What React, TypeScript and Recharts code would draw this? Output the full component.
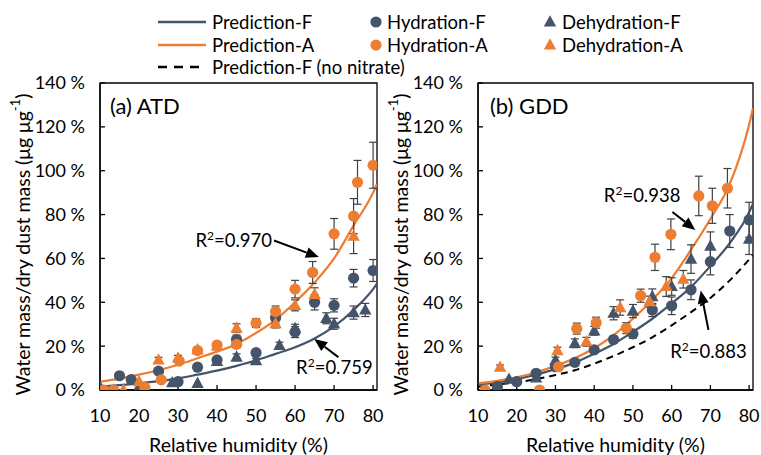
import React from 'react';
import {
  ComposedChart,
  XAxis,
  YAxis,
  Scatter,
  Line,
  ErrorBar,
  ReferenceArea,
  ReferenceLine,
} from 'recharts';

const FONT = 'Lato, "Open Sans", sans-serif';
const BLUE = '#44546A';
const ORANGE = '#ED7D31';
const ERR = '#404040';

// ---------- axes ----------
const rhTicks = [10, 20, 30, 40, 50, 60, 70, 80];
const yTicks = [0, 20, 40, 60, 80, 100, 120, 140];
const rhDomain: [number, number] = [10, 81];
const yDomain: [number, number] = [0, 140];

// ---------- prediction curves (RH grid + values in %) ----------
const curveRH = [10, 15, 20, 25, 30, 35, 40, 45, 50, 55, 60, 65, 70, 75, 80, 81];
const atdPredF = [1.5, 2.2, 3.0, 4.0, 5.3, 7.0, 8.8, 11, 13.5, 16.5, 19.5, 23.5, 29, 36.5, 46, 48.5];
const atdPredA = [3.8, 5.2, 7, 9, 11.5, 14.5, 17.5, 21, 26, 32, 40, 49, 60, 75, 90, 94];
const gddPredF = [2.5, 3.5, 5, 7, 9.5, 12.5, 16.5, 21, 26.5, 32.5, 39.5, 47, 56.5, 67, 81, 85];
const gddPredA = [3, 4.2, 5.8, 8, 11, 14.5, 19, 25, 32.5, 41, 51, 64, 78, 94, 121, 128.5];
const gddPredNoNitrate = [1.5, 2.5, 3.5, 5, 6.8, 9, 12, 15.5, 19.5, 24, 29.5, 35.5, 42, 50, 59.5, 61.5];

// ---------- measurements (x: RH %, y: water/dust %, e: error) ----------
type Pt = { x: number; y: number; e?: number };

const atdHydF: Pt[] = [
  { x: 15, y: 6.5 }, { x: 18, y: 4.7 }, { x: 25, y: 8.6, e: 0.8 }, { x: 30, y: 3.8 },
  { x: 35, y: 10.4, e: 0.8 }, { x: 40, y: 13.7, e: 1 }, { x: 45, y: 23, e: 2 },
  { x: 50, y: 17, e: 1.5 }, { x: 55, y: 33, e: 2.5 }, { x: 60, y: 26.4, e: 2.5 },
  { x: 65, y: 40, e: 3.5 }, { x: 70, y: 38.6, e: 3 }, { x: 75, y: 51, e: 4 }, { x: 80, y: 54.5, e: 5 },
];
const atdDehF: Pt[] = [
  { x: 10, y: 1.5 }, { x: 20, y: 1.5 }, { x: 28.5, y: 3.3 }, { x: 35, y: 3 },
  { x: 40, y: 13 }, { x: 45, y: 15, e: 1.5 }, { x: 50, y: 13.4, e: 1 },
  { x: 56, y: 20.3, e: 1.5 }, { x: 60, y: 28, e: 2 }, { x: 68, y: 32.7, e: 2.5 },
  { x: 70, y: 30.2, e: 2.5 }, { x: 75, y: 35.3, e: 3 }, { x: 78, y: 36.5, e: 3 },
];
const atdHydA: Pt[] = [
  { x: 11, y: 0 }, { x: 13.5, y: 0 }, { x: 21.5, y: 1.2 }, { x: 25.7, y: 4.6 },
  { x: 30.3, y: 13.2, e: 1 }, { x: 35, y: 18, e: 1 }, { x: 40, y: 20.5, e: 1 },
  { x: 45, y: 20.8, e: 1.5 }, { x: 50, y: 30.5, e: 2 }, { x: 55, y: 35.8, e: 2.5 },
  { x: 60, y: 46, e: 4 }, { x: 64.5, y: 53.6, e: 5 }, { x: 70, y: 71.2, e: 7 },
  { x: 75, y: 79.3, e: 8 }, { x: 76, y: 94.7, e: 10 }, { x: 80, y: 102.5, e: 10.5 },
];
const atdDehA: Pt[] = [
  { x: 16, y: 0 }, { x: 20, y: 3.8 }, { x: 25, y: 13.7, e: 1.2 }, { x: 30, y: 14.6, e: 1.2 },
  { x: 35, y: 18.3, e: 1 }, { x: 40, y: 20 }, { x: 45, y: 28.2, e: 2 },
  { x: 55, y: 30.3, e: 2 }, { x: 60, y: 38.6, e: 2.5 }, { x: 65, y: 43.6, e: 3 }, { x: 75, y: 70.2, e: 8 },
];

const gddHydF: Pt[] = [
  { x: 15, y: 1.5 }, { x: 20, y: 3.8 }, { x: 25, y: 7.6, e: 1 }, { x: 30, y: 10.6, e: 1 },
  { x: 35, y: 12.6, e: 1 }, { x: 40, y: 18.3, e: 1.5 }, { x: 45, y: 23, e: 1.5 },
  { x: 50, y: 25.6, e: 2 }, { x: 55, y: 36.5, e: 3 }, { x: 60, y: 38.4, e: 4 },
  { x: 65, y: 45.7, e: 4.5 }, { x: 70, y: 58.5, e: 6 }, { x: 75, y: 72.5, e: 7.5 }, { x: 80, y: 77.6, e: 8 },
];
const gddDehF: Pt[] = [
  { x: 18, y: 4.9 }, { x: 25, y: 5.5 }, { x: 30, y: 13.5, e: 1.5 }, { x: 35, y: 21.3, e: 2 },
  { x: 40, y: 27, e: 2 }, { x: 45, y: 35, e: 3 }, { x: 50, y: 36, e: 3 },
  { x: 55, y: 42.6, e: 3.5 }, { x: 60, y: 47.2, e: 4 }, { x: 65, y: 59.7, e: 6.5 },
  { x: 70, y: 65.6, e: 6.5 }, { x: 80, y: 68.8, e: 7 },
];
const gddHydA: Pt[] = [
  { x: 11.8, y: 0 }, { x: 25.9, y: 0 }, { x: 30.8, y: 10.6 }, { x: 35.5, y: 28, e: 2.5 },
  { x: 40.5, y: 30.7, e: 2.5 }, { x: 48.3, y: 28.2, e: 2.5 }, { x: 52, y: 43, e: 3 },
  { x: 55.7, y: 60.5, e: 6 }, { x: 59.8, y: 71, e: 7 }, { x: 67, y: 88.5, e: 9 },
  { x: 70.5, y: 84, e: 8 }, { x: 74.4, y: 92, e: 9 },
];
const gddDehA: Pt[] = [
  { x: 15.7, y: 10.4, e: 1 }, { x: 30.5, y: 18, e: 1.5 }, { x: 38, y: 22, e: 2 },
  { x: 46.7, y: 37.6, e: 3.5 }, { x: 54.3, y: 40.3, e: 2.5 }, { x: 58.6, y: 47.2, e: 4.5 },
  { x: 63, y: 50.5, e: 4 },
];

// ---------- annotations (data coordinates) ----------
type Note = { label: string; from: [number, number]; to: [number, number] };
const atdNotes: Note[] = [
  { label: '0.970', from: [54.6, 68.2], to: [66.1, 60.6] },
  { label: '0.759', from: [71.1, 15.0], to: [64.9, 23.3] },
];
const gddNotes: Note[] = [
  { label: '0.938', from: [60.2, 81.2], to: [66.1, 73.0] },
  { label: '0.883', from: [69.5, 27.4], to: [67.5, 45.4] },
];
// text placement relative to arrow tail (style only)
const atdNoteText = [
  { dx: -2, dy: 1, anchor: 'end' },
  { dx: -4, dy: 11, anchor: 'middle' },
];
const gddNoteText = [
  { dx: 8, dy: -16, anchor: 'end' },
  { dx: 0, dy: 22, anchor: 'middle' },
];

const toCurve = (vals: number[]) => curveRH.map((x, i) => ({ x, y: vals[i] }));

const circleShape = (color: string) => (p: any) =>
  <circle cx={p.cx} cy={p.cy} r={5.6} fill={color} />;
const triPoints = (cx: number, cy: number) =>
  `${cx},${cy - 6.8} ${cx + 6.2},${cy + 4.6} ${cx - 6.2},${cy + 4.6}`;
const triShape = (color: string) => (p: any) =>
  <polygon points={triPoints(p.cx, p.cy)} fill={color} />;

const arrowShape = (label: string, t: { dx: number; dy: number; anchor: string }) => (p: any) => {
  const { x1, y1, x2, y2 } = p;
  const ang = Math.atan2(y2 - y1, x2 - x1);
  const L = 13;
  const W = 5.5;
  const bx = x2 - L * Math.cos(ang);
  const by = y2 - L * Math.sin(ang);
  const px = -Math.sin(ang) * W;
  const py = Math.cos(ang) * W;
  return (
    <g>
      <line x1={x1} y1={y1} x2={bx} y2={by} stroke="#000" strokeWidth={2} />
      <polygon points={`${x2},${y2} ${bx + px},${by + py} ${bx - px},${by - py}`} fill="#000" />
      <text
        x={x1 + t.dx}
        y={y1 + t.dy + 6}
        textAnchor={t.anchor as any}
        fontSize={18.5}
        fontFamily={FONT}
        fill="#000"
      >
        R<tspan dy={-7} fontSize={12}>2</tspan>
        <tspan dy={7}>={label}</tspan>
      </text>
    </g>
  );
};

const YTitle = (props: any) => {
  const vb = props.viewBox || { x: 0, y: 0, width: 0, height: 0 };
  const cx = vb.x + vb.width - 78;
  const cy = vb.y + vb.height / 2 + 8;
  return (
    <text
      x={cx}
      y={cy}
      transform={`rotate(-90 ${cx} ${cy})`}
      textAnchor="middle"
      dominantBaseline="central"
      fontSize={19.5}
      fontFamily={FONT}
      fill="#000"
    >
      Water mass/dry dust mass (μg μg<tspan dy={-7} fontSize={13}>-1</tspan>
      <tspan dy={7}>)</tspan>
    </text>
  );
};

type PanelProps = {
  left: number;
  width: number;
  yAxisWidth: number;
  marginRight: number;
  predF: number[];
  predA: number[];
  predNo?: number[];
  hydF: Pt[];
  dehF: Pt[];
  hydA: Pt[];
  dehA: Pt[];
  notes: Note[];
  noteText: { dx: number; dy: number; anchor: string }[];
};

function Panel(props: PanelProps) {
  const tickStyle = { fill: '#000', fontSize: 18, fontFamily: FONT };
  const series = [
    { d: props.hydF, shape: circleShape(BLUE), name: 'hydF' },
    { d: props.dehF, shape: triShape(BLUE), name: 'dehF' },
    { d: props.hydA, shape: circleShape(ORANGE), name: 'hydA' },
    { d: props.dehA, shape: triShape(ORANGE), name: 'dehA' },
  ];
  return (
    <div style={{ position: 'absolute', left: props.left, top: 0 }}>
      <ComposedChart
        width={props.width}
        height={455}
        margin={{ top: 83, right: props.marginRight, bottom: 0, left: 0 }}
      >
        <XAxis
          type="number"
          dataKey="x"
          domain={rhDomain}
          ticks={rhTicks}
          interval={0}
          allowDataOverflow
          height={65}
          tickSize={-5}
          tickMargin={24}
          stroke="#000"
          strokeWidth={1.3}
          tick={tickStyle}
          label={{
            value: 'Relative humidity (%)',
            position: 'insideBottom',
            offset: 3,
            fill: '#000',
            fontSize: 19.5,
            fontFamily: FONT,
          }}
        />
        <YAxis
          type="number"
          dataKey="y"
          domain={yDomain}
          ticks={yTicks}
          interval={0}
          allowDataOverflow
          width={props.yAxisWidth}
          tickSize={-5}
          tickMargin={20}
          stroke="#000"
          strokeWidth={1.3}
          tick={tickStyle}
          tickFormatter={(v: number) => `${v} %`}
          label={YTitle}
        />
        <ReferenceArea
          x1={10}
          x2={81}
          y1={0}
          y2={140}
          fill="none"
          fillOpacity={0}
          stroke="#000"
          strokeWidth={1.3}
          ifOverflow="visible"
        />
        {props.predNo && (
          <Line
            data={toCurve(props.predNo)}
            dataKey="y"
            type="monotone"
            stroke="#000"
            strokeWidth={2}
            strokeDasharray="7 5"
            dot={false}
            isAnimationActive={false}
          />
        )}
        <Line
          data={toCurve(props.predF)}
          dataKey="y"
          type="monotone"
          stroke={BLUE}
          strokeWidth={2.25}
          dot={false}
          isAnimationActive={false}
        />
        <Line
          data={toCurve(props.predA)}
          dataKey="y"
          type="monotone"
          stroke={ORANGE}
          strokeWidth={2.25}
          dot={false}
          isAnimationActive={false}
        />
        {series.map((s) => (
          <Scatter key={s.name} data={s.d} dataKey="y" shape={s.shape} isAnimationActive={false}>
            <ErrorBar dataKey="e" direction="y" width={4} stroke={ERR} strokeWidth={1.2} />
          </Scatter>
        ))}
        {props.notes.map((n, i) => (
          <ReferenceLine
            key={n.label}
            segment={[
              { x: n.from[0], y: n.from[1] },
              { x: n.to[0], y: n.to[1] },
            ]}
            ifOverflow="visible"
            shape={arrowShape(n.label, props.noteText[i])}
          />
        ))}
      </ComposedChart>
    </div>
  );
}

function LegendOverlay() {
  const fs = 18.5;
  const txt = (x: number, y: number, s: string) => (
    <text x={x} y={y} dominantBaseline="central" fontSize={fs} fontFamily={FONT} fill="#000">
      {s}
    </text>
  );
  return (
    <svg
      width={761}
      height={455}
      style={{ position: 'absolute', left: 0, top: 0, pointerEvents: 'none' }}
    >
      <line x1={158} y1={22} x2={206} y2={22} stroke={BLUE} strokeWidth={2.5} />
      {txt(212, 22, 'Prediction-F')}
      <circle cx={376} cy={22} r={5.6} fill={BLUE} />
      {txt(387, 22, 'Hydration-F')}
      <polygon points={triPoints(550, 22)} fill={BLUE} />
      {txt(562, 22, 'Dehydration-F')}

      <line x1={158} y1={45} x2={206} y2={45} stroke={ORANGE} strokeWidth={2.5} />
      {txt(212, 45, 'Prediction-A')}
      <circle cx={376} cy={45} r={5.6} fill={ORANGE} />
      {txt(387, 45, 'Hydration-A')}
      <polygon points={triPoints(550, 45)} fill={ORANGE} />
      {txt(562, 45, 'Dehydration-A')}

      <line x1={158} y1={67} x2={206} y2={67} stroke="#000" strokeWidth={2.5} strokeDasharray="9 7" />
      {txt(212, 67, 'Prediction-F (no nitrate)')}

      <text x={110} y={105} dominantBaseline="central" fontSize={22} fontFamily={FONT} fill="#000">
        (a) ATD
      </text>
      <text x={490} y={105} dominantBaseline="central" fontSize={22} fontFamily={FONT} fill="#000">
        (b) GDD
      </text>
    </svg>
  );
}

export default function App() {
  return (
    <div
      style={{
        position: 'absolute',
        left: 0,
        top: 0,
        width: 761,
        height: 455,
        background: '#fff',
        overflow: 'hidden',
        fontFamily: FONT,
      }}
    >
      <Panel
        left={0}
        width={392}
        yAxisWidth={100}
        marginRight={15}
        predF={atdPredF}
        predA={atdPredA}
        hydF={atdHydF}
        dehF={atdDehF}
        hydA={atdHydA}
        dehA={atdDehA}
        notes={atdNotes}
        noteText={atdNoteText}
      />
      <Panel
        left={380}
        width={381}
        yAxisWidth={98}
        marginRight={8}
        predF={gddPredF}
        predA={gddPredA}
        predNo={gddPredNoNitrate}
        hydF={gddHydF}
        dehF={gddDehF}
        hydA={gddHydA}
        dehA={gddDehA}
        notes={gddNotes}
        noteText={gddNoteText}
      />
      <LegendOverlay />
    </div>
  );
}
